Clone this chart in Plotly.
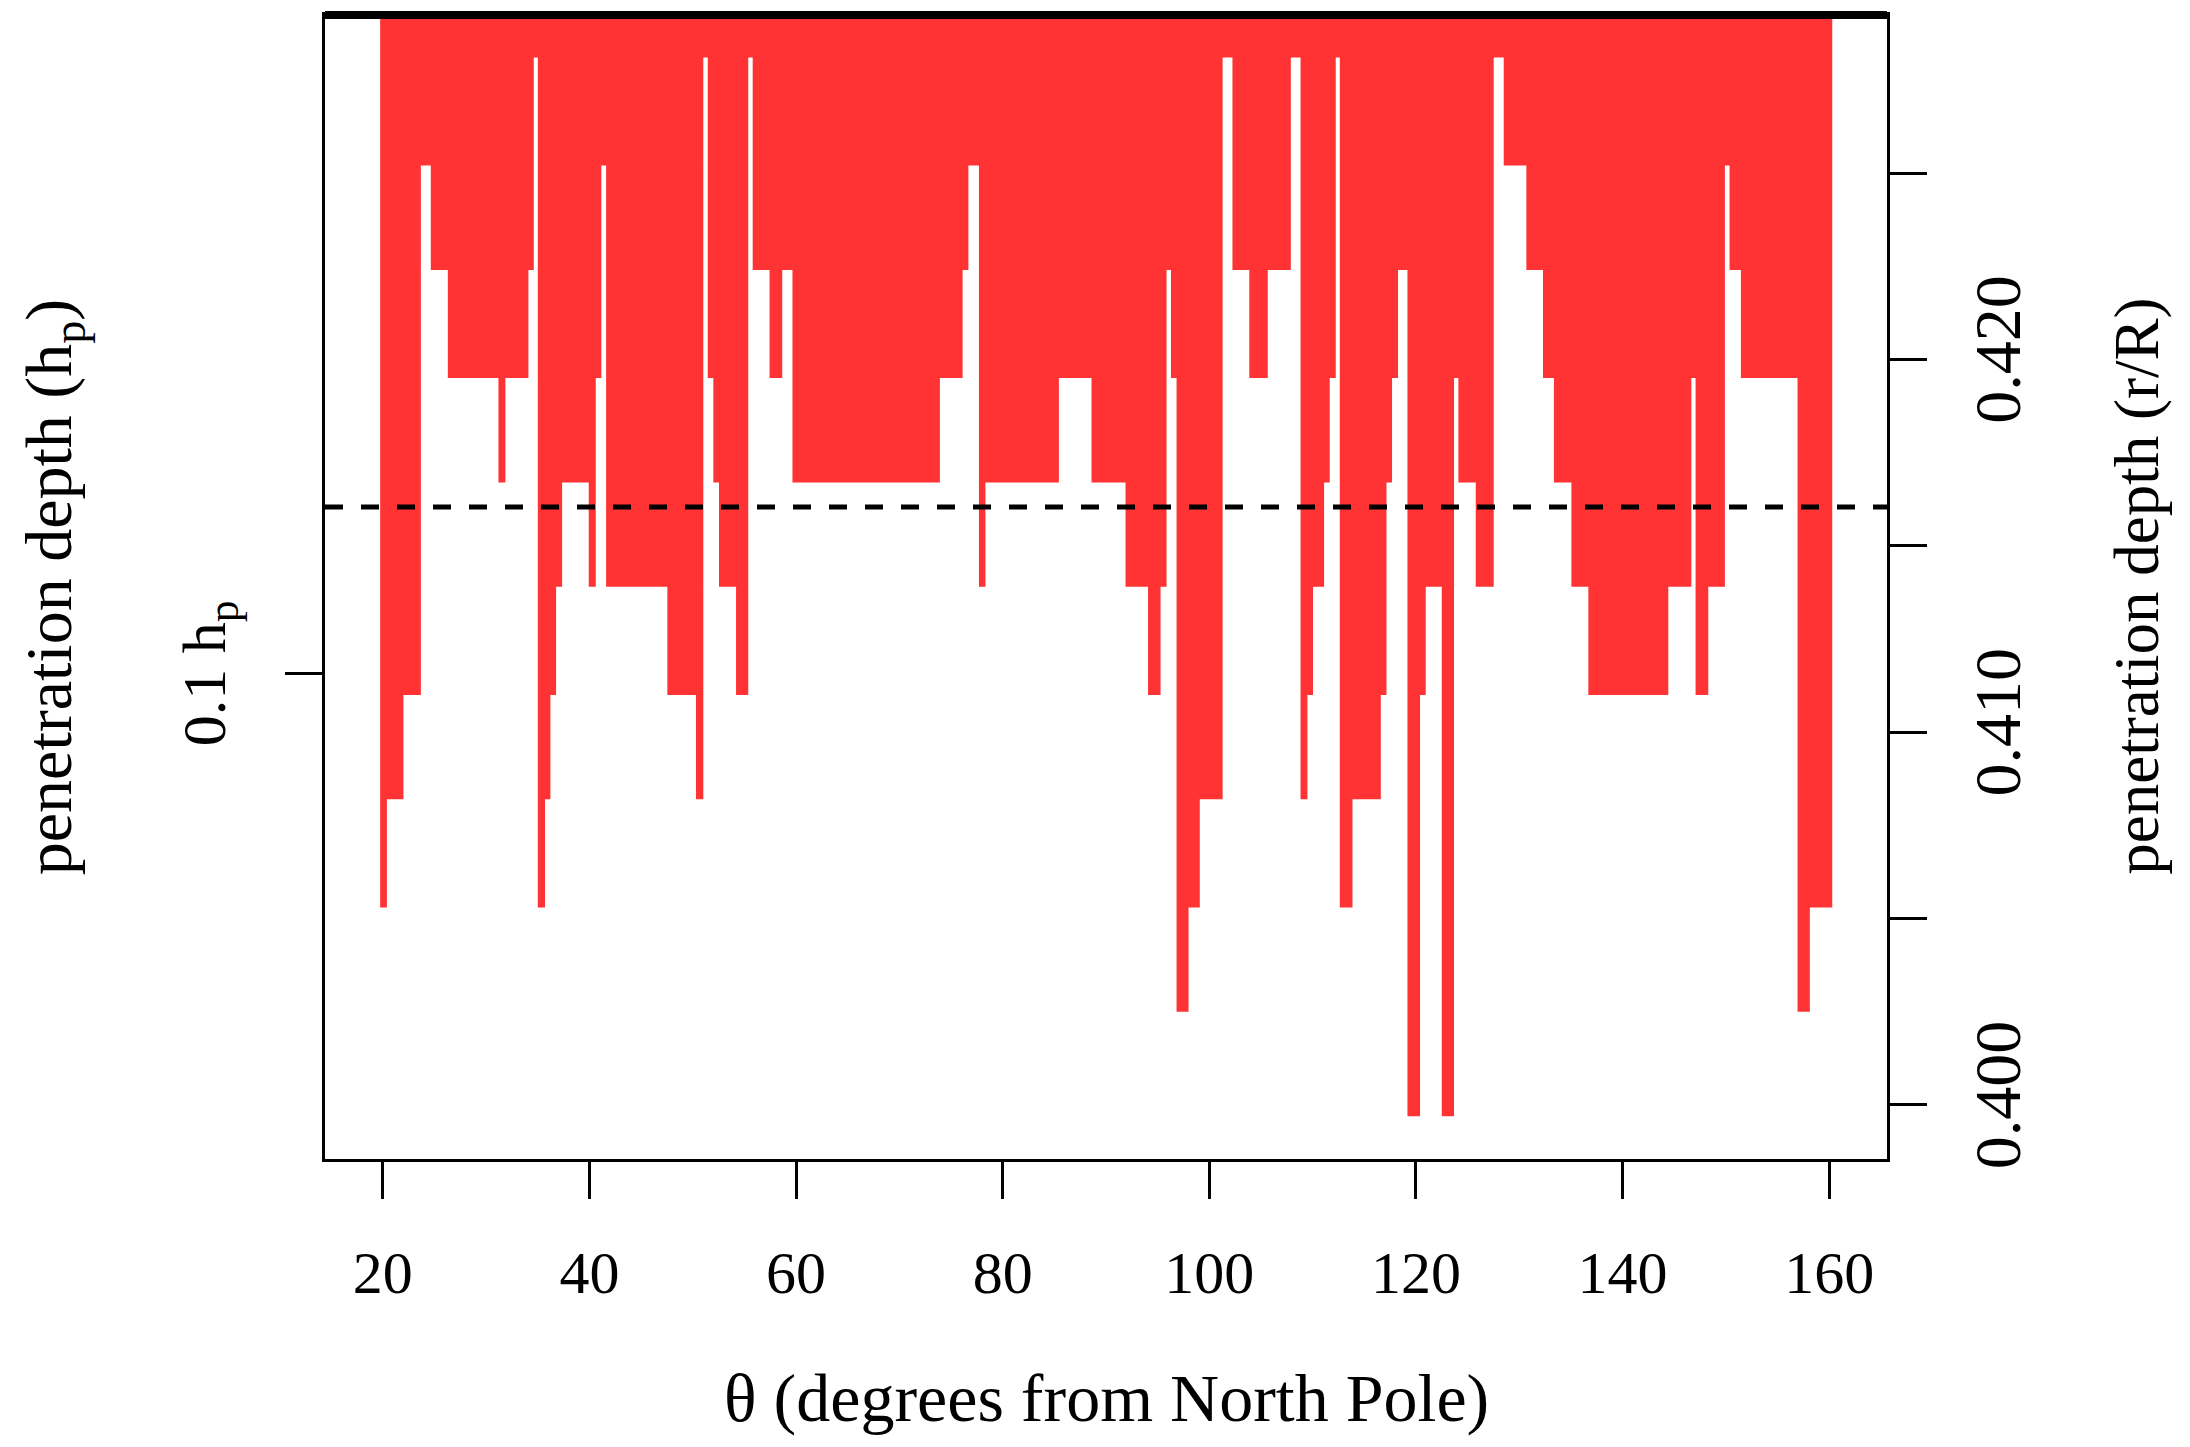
import plotly.graph_objects as go

# Penetration depth (r/R) of the overshooting region versus colatitude.
# Each segment runs from theta_edges[i] to theta_edges[i+1] at depth_r[i].
theta_edges = [19.74, 20.39, 21.99, 23.68, 24.64, 26.29, 31.19, 31.86, 34.09, 34.61,
               35.00, 35.70, 36.22, 36.77, 37.35, 39.93, 40.61, 41.15, 41.61, 47.54,
               50.31, 51.02, 51.45, 51.99, 52.54, 54.19, 55.37, 55.80, 57.43, 58.66,
               59.65, 73.92, 76.12, 76.68, 77.70, 78.33, 85.44, 88.60, 91.89, 94.07,
               95.28, 95.86, 96.29, 96.83, 97.99, 99.08, 101.29, 102.24, 103.87, 105.66,
               107.89, 108.83, 109.50, 110.04, 111.11, 111.66, 112.24, 112.63, 113.86, 116.60,
               117.15, 117.69, 118.27, 119.18, 120.40, 120.95, 122.50, 123.69, 124.11, 125.79,
               127.53, 128.50, 130.69, 132.30, 133.36, 135.05, 136.69, 144.43, 146.66, 147.07,
               148.30, 149.91, 150.36, 151.46, 156.94, 158.13, 160.30]

depth_r = [0.4053, 0.4082, 0.4110, 0.4252, 0.4224, 0.4195, 0.4167, 0.4195, 0.4224, 0.4281,
           0.4053, 0.4082, 0.4110, 0.4139, 0.4167, 0.4139, 0.4195, 0.4252, 0.4139, 0.4110,
           0.4082, 0.4281, 0.4195, 0.4167, 0.4139, 0.4110, 0.4281, 0.4224, 0.4195, 0.4224,
           0.4167, 0.4195, 0.4224, 0.4252, 0.4139, 0.4167, 0.4195, 0.4167, 0.4139, 0.4110,
           0.4139, 0.4224, 0.4195, 0.4025, 0.4053, 0.4082, 0.4281, 0.4224, 0.4195, 0.4224,
           0.4281, 0.4082, 0.4110, 0.4139, 0.4167, 0.4195, 0.4281, 0.4053, 0.4082, 0.4110,
           0.4167, 0.4195, 0.4224, 0.3997, 0.4110, 0.4139, 0.3997, 0.4195, 0.4167, 0.4139,
           0.4281, 0.4252, 0.4224, 0.4195, 0.4167, 0.4139, 0.4110, 0.4139, 0.4195, 0.4110,
           0.4139, 0.4252, 0.4224, 0.4195, 0.4025, 0.4053]

# dashed reference depth and the 0.1 pressure-scale-height mark
dashed_depth = 0.41604
hp_tick_r = 0.41158
hp_tick_label = "0.1 h<sub>p</sub>"

x_ticks = [20, 40, 60, 80, 100, 120, 140, 160]
r_major_ticks = [0.400, 0.410, 0.420]
r_minor_step = 0.005

x_range = [14.4, 165.6]
y_range = [0.39855, 0.42924]

RED = "#FF3333"
FONT = "Liberation Serif"

# closed step outline: top edge, down through every segment, back to the top
top = y_range[1]
px = [theta_edges[0]]
py = [top]
for i, d in enumerate(depth_r):
    px += [theta_edges[i], theta_edges[i + 1]]
    py += [d, d]
px.append(theta_edges[-1])
py.append(top)

fig = go.Figure()
fig.add_trace(go.Scatter(
    x=px, y=py, mode="lines", fill="toself", fillcolor=RED,
    line=dict(width=0, color=RED), hoverinfo="skip", yaxis="y",
))
fig.add_trace(go.Scatter(
    x=x_range, y=[dashed_depth, dashed_depth], mode="lines",
    line=dict(color="black", width=5, dash="18px,18px"),
    hoverinfo="skip", yaxis="y2",
))

axis_common = dict(
    showgrid=False, zeroline=False, showline=True, linecolor="black", linewidth=3,
    ticks="outside", ticklen=37, tickwidth=3, tickcolor="black",
)

fig.update_layout(
    width=2190, height=1447,
    margin=dict(l=325, r=303, t=12, b=288),
    paper_bgcolor="white", plot_bgcolor="white",
    showlegend=False,
    xaxis=dict(range=x_range, tickvals=x_ticks, ticktext=[str(t) for t in x_ticks],
               mirror=True, ticklabelstandoff=22,
               tickfont=dict(family=FONT, size=60, color="black"), **axis_common),
    yaxis=dict(range=y_range, tickvals=[hp_tick_r], showticklabels=False, **axis_common),
    yaxis2=dict(range=y_range, tickvals=r_major_ticks,
                ticktext=[f"{t:.3f}" for t in r_major_ticks], overlaying="y",
                side="right", tickangle=-90, ticklabelstandoff=14,
                tickfont=dict(family=FONT, size=66, color="black"),
                minor=dict(ticks="outside", ticklen=37, tickwidth=3, tickcolor="black",
                           tick0=r_major_ticks[0], dtick=r_minor_step, showgrid=False),
                **axis_common),
    annotations=[
        dict(text=hp_tick_label, xref="paper", yref="y", x=-0.0749, y=hp_tick_r,
             xanchor="center", yanchor="middle", textangle=-90, showarrow=False,
             font=dict(family=FONT, size=62, color="black")),
        dict(text="θ (degrees from North Pole)", xref="paper", yref="paper",
             x=0.5, y=-0.209, xanchor="center", yanchor="middle", showarrow=False,
             font=dict(family=FONT, size=68, color="black")),
        dict(text="penetration depth (h<sub>p</sub>)", xref="paper", yref="paper",
             x=-0.174, y=0.5, xanchor="center", yanchor="middle", textangle=-90,
             showarrow=False, font=dict(family=FONT, size=66, color="black")),
        dict(text="penetration depth (r/R)", xref="paper", yref="paper",
             x=1.160, y=0.501, xanchor="center", yanchor="middle", textangle=-90,
             showarrow=False, font=dict(family=FONT, size=63, color="black")),
    ],
    shapes=[
        dict(type="line", xref="paper", yref="paper", x0=0, x1=1, y0=1, y1=1,
             line=dict(color="black", width=8), layer="above"),
    ],
)

fig.write_html("out.html")
